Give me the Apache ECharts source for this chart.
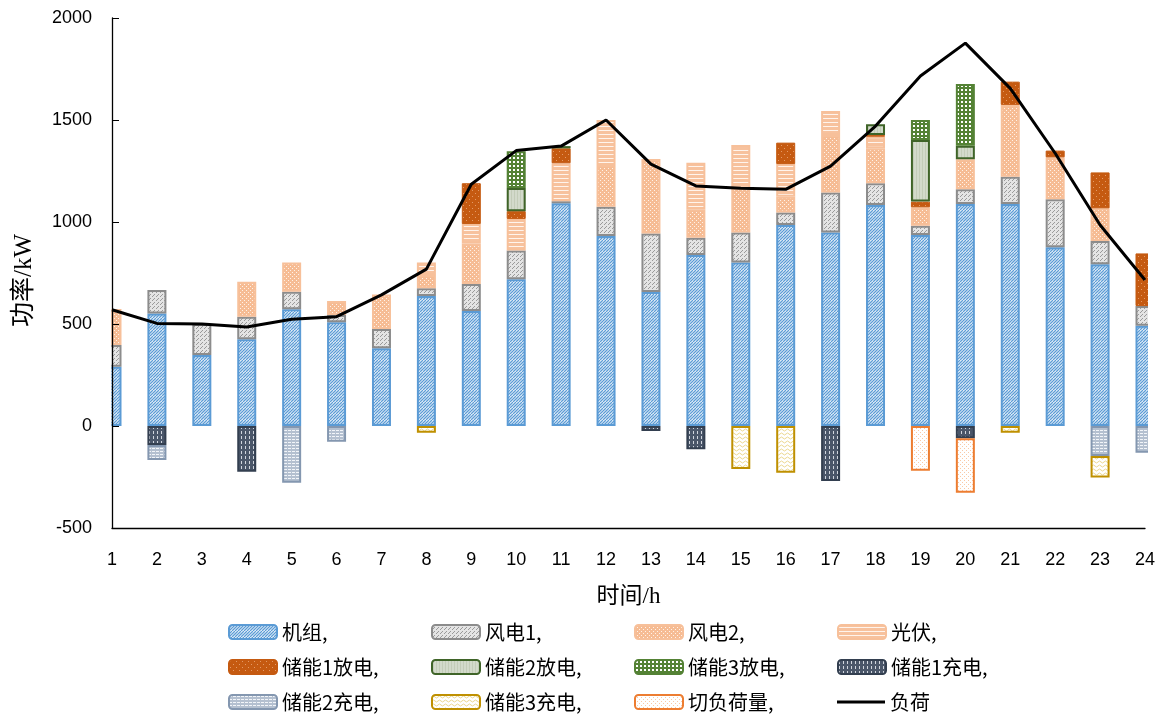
<!DOCTYPE html>
<html>
<head>
<meta charset="utf-8">
<script src="https://cdn.jsdelivr.net/npm/echarts@6/dist/echarts.min.js"></script>
<style>
  html, body { margin: 0; padding: 0; background: #fff; }
  #chart { width: 1165px; height: 720px; }
</style>
</head>
<body>
<div id="chart"></div>
<script>
// Hourly dispatch (kW); null = no output in that hour
const hours = ['1','2','3','4','5','6','7','8','9','10','11','12','13','14','15','16','17','18','19','20','21','22','23','24'];
const unitGen = [291,552,348,425,572,508,381,637,564,719,1092,931,657,838,801,985,949,1083,936,1088,1088,876,793,492];
const wind1   = [106,115,152,111,86,36,94,38,132,141,10,144,287,85,147,61,196,107,46,72,134,235,114,96];
const wind2   = [176,null,null,171,143,69,170,65,199,null,null,204,365,139,217,78,281,171,90,147,352,206,160,null];
const solar   = [null,null,null,null,null,null,null,62,95,155,186,221,null,229,212,160,118,57,null,null,null,null,null,null];
const ess1Dis = [null,null,null,null,null,null,null,null,200,38,73,null,null,null,null,105,null,8,28,null,114,33,176,258];
const ess2Dis = [null,null,null,null,null,null,null,null,null,114,11,null,null,null,null,null,null,53,302,67,null,null,null,null];
const ess3Dis = [null,null,null,null,null,null,null,null,null,180,null,null,null,null,null,null,null,null,98,302,null,null,null,null];
const ess1Chg = [null,-93,null,-224,null,null,null,null,null,null,null,null,-25,-114,null,null,-270,null,null,-60,null,null,null,null];
const ess2Chg = [null,-74,null,null,-278,-77,null,null,null,null,null,null,null,null,null,null,null,null,null,null,null,null,-147,-131];
const ess3Chg = [null,null,null,null,null,null,null,-33,null,null,null,null,null,null,-211,-229,null,null,null,null,-33,null,-106,null];
const shedLoad = [null,null,null,null,null,null,null,null,null,null,null,null,null,null,null,null,null,null,-219,-267,null,null,null,null];
const load    = [570,503,500,485,523,536,643,769,1185,1350,1372,1500,1284,1177,1166,1160,1274,1470,1716,1877,1655,1337,985,716];
const yTicks  = [-500, 0, 500, 1000, 1500, 2000];

// Plot area
const GRID = { left: 112, right: 20, top: 18, bottom: 192 };
const W = 1165, H = 720;

// Small repeating fill tiles
function tile(w, h, draw) {
  const c = document.createElement('canvas');
  c.width = w; c.height = h;
  const g = c.getContext('2d');
  draw(g, w, h);
  return { image: c, repeat: 'repeat' };
}
function dots(g, w, h, bg, fg, pts) {
  g.fillStyle = bg; g.fillRect(0, 0, w, h);
  g.fillStyle = fg;
  pts.forEach(p => g.fillRect(p[0], p[1], 1, 1));
}

const patHatch = tile(6, 6, (g, w, h) => {
  g.fillStyle = '#ffffff'; g.fillRect(0, 0, w, h);
  g.strokeStyle = '#5B9BD5'; g.lineWidth = 1.3;
  for (let c = -6; c <= 12; c += 3) { g.beginPath(); g.moveTo(c + 6, 0); g.lineTo(c, 6); g.stroke(); }
});
const patWind1 = tile(4, 4, (g, w, h) => dots(g, w, h, '#E4E4E4', '#9A9A9A', [[0,0],[2,2],[1,3]]));
const patWind2 = tile(4, 4, (g, w, h) => dots(g, w, h, '#F6BC94', '#FFF2E8', [[0,0],[2,2]]));
const patSolar = tile(4, 4, (g, w, h) => {
  g.fillStyle = '#F7C29E'; g.fillRect(0, 0, w, h);
  g.fillStyle = '#FFF4EC'; g.fillRect(0, 2, w, 1);
});
const patDis1 = tile(6, 6, (g, w, h) => dots(g, w, h, '#C55A11', '#E49A66', [[1,1],[4,4]]));
const patDis2 = tile(3, 3, (g, w, h) => {
  g.fillStyle = '#D3DACB'; g.fillRect(0, 0, w, h);
  g.fillStyle = '#C3CCB8'; g.fillRect(1, 0, 1, h);
});
const patDis3 = tile(4, 4, (g, w, h) => {
  g.fillStyle = '#548235'; g.fillRect(0, 0, w, h);
  g.fillStyle = '#FFFFFF'; g.fillRect(1, 1, 2, 2);
});
const patChg1 = tile(4, 5, (g, w, h) => {
  g.fillStyle = '#4A5669'; g.fillRect(0, 0, w, h);
  g.fillStyle = '#D0D5DD'; g.fillRect(1, 1, 1, 3);
});
const patChg2 = tile(4, 3, (g, w, h) => {
  g.fillStyle = '#B4C0D0'; g.fillRect(0, 0, w, h);
  g.fillStyle = '#F2F5F9'; g.fillRect(0, 1, 3, 1);
});
const patChg3 = tile(6, 4, (g, w, h) => {
  g.fillStyle = '#FFFFFF'; g.fillRect(0, 0, w, h);
  g.strokeStyle = '#EBD78F'; g.lineWidth = 1;
  g.beginPath(); g.moveTo(0, 2); g.lineTo(1.5, 1); g.lineTo(4.5, 3); g.lineTo(6, 2); g.stroke();
});
const patShed = tile(4, 4, (g, w, h) => dots(g, w, h, '#FFFFFF', '#F9C9A6', [[0,0],[2,2]]));

const barSeries = [
  ['机组', unitGen, patHatch, '#5B9BD5', 2],
  ['风电1', wind1, patWind1, '#8C8C8C', 2],
  ['风电2', wind2, patWind2, '#F7C09A', 2],
  ['光伏', solar, patSolar, '#F7C09A', 2],
  ['储能1放电', ess1Dis, patDis1, '#C55A11', 1],
  ['储能2放电', ess2Dis, patDis2, '#3F6428', 2],
  ['储能3放电', ess3Dis, patDis3, '#548235', 2],
  ['储能1充电', ess1Chg, patChg1, '#333F50', 2],
  ['储能2充电', ess2Chg, patChg2, '#8497B0', 2],
  ['储能3充电', ess3Chg, patChg3, '#BF9000', 2],
  ['切负荷量', shedLoad, patShed, '#ED7D31', 2]
].map(([name, data, fill, border, bw]) => ({
  name: name,
  type: 'bar',
  stack: 'power',
  barWidth: 19,
  data: data,
  itemStyle: { color: fill, borderColor: border, borderWidth: bw },
  emphasis: { disabled: true }
}));

const lineSeries = {
  name: '负荷',
  type: 'line',
  data: load,
  symbol: 'none',
  z: 10,
  lineStyle: { color: '#000', width: 3 },
  itemStyle: { color: '#000' }
};

// Legend: 4 columns x 3 rows, one component per entry so the grid stays aligned
const legendOrder = ['机组','风电1','风电2','光伏','储能1放电','储能2放电','储能3放电','储能1充电','储能2充电','储能3充电','切负荷量','负荷'];
const legendColX = [228, 431, 634, 837];
const legendRowY = [632, 667, 702];
const legends = legendOrder.map((name, i) => {
  const isLine = name === '负荷';
  return {
    left: legendColX[i % 4],
    top: legendRowY[Math.floor(i / 4)] - 11,
    padding: 0,
    itemWidth: 48,
    itemHeight: isLine ? 3 : 14,
    icon: isLine ? 'rect' : undefined,
    itemGap: 0,
    selectedMode: false,
    formatter: n => isLine ? n : n + ',',
    textStyle: { fontFamily: 'Noto Sans CJK SC', fontSize: 20, color: '#000', lineHeight: 22 },
    data: [name]
  };
});

const chart = echarts.init(document.getElementById('chart'), null, { renderer: 'canvas' });
chart.setOption({
  animation: false,
  backgroundColor: '#fff',
  grid: GRID,
  legend: legends,
  xAxis: {
    type: 'category',
    data: hours,
    boundaryGap: false,
    name: '时间/h',
    nameLocation: 'middle',
    nameGap: 57,
    nameTextStyle: { fontFamily: 'Liberation Serif, Noto Sans CJK SC', fontSize: 23, color: '#000' },
    axisLine: { onZero: false, lineStyle: { color: '#000', width: 1.3 } },
    axisTick: { show: false },
    axisLabel: { fontFamily: 'Liberation Sans', fontSize: 18, color: '#000', margin: 23 },
    splitLine: { show: false },
    z: 6
  },
  yAxis: {
    type: 'value',
    min: yTicks[0],
    max: yTicks[yTicks.length - 1],
    interval: 500,
    axisLine: { show: true, lineStyle: { color: '#000', width: 1.3 } },
    axisTick: { show: true, inside: true, length: 7, lineStyle: { color: '#000' } },
    axisLabel: { fontFamily: 'Liberation Sans', fontSize: 18, color: '#000', margin: 20, formatter: v => String(v) },
    splitLine: { show: false },
    z: 6
  },
  graphic: [
    // keep the half bars at the first and last hour inside the plot area
    { type: 'rect', z: 5, silent: true,
      shape: { x: GRID.left - 16, y: 0, width: 15.3, height: H - GRID.bottom - 1 },
      style: { fill: '#fff' } },
    { type: 'rect', z: 5, silent: true,
      shape: { x: W - GRID.right + 3, y: 0, width: GRID.right, height: H - GRID.bottom - 1 },
      style: { fill: '#fff' } },
    { type: 'text', left: 12, top: 234, rotation: Math.PI / 2, z: 6,
      style: { text: '功率/kW', font: '25px "Liberation Serif", "Noto Sans CJK SC"', fill: '#000' } }
  ],
  series: barSeries.concat([lineSeries])
});
</script>
</body>
</html>
